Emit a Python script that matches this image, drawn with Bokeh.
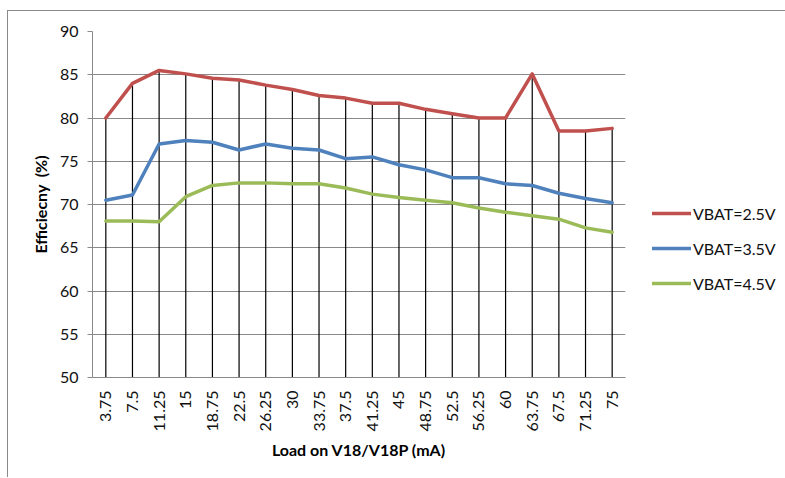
from bokeh.plotting import figure
from bokeh.models import Range1d, FactorRange, FixedTicker, Legend, LegendItem
from bokeh.embed import file_html
from bokeh.resources import INLINE
from math import pi

loads = ["3.75", "7.5", "11.25", "15", "18.75", "22.5", "26.25", "30", "33.75", "37.5",
         "41.25", "45", "48.75", "52.5", "56.25", "60", "63.75", "67.5", "71.25", "75"]
vbat_25 = [80.0, 84.0, 85.5, 85.1, 84.6, 84.4, 83.8, 83.3, 82.6, 82.3,
           81.7, 81.7, 81.0, 80.5, 80.0, 80.0, 85.1, 78.5, 78.5, 78.8]
vbat_35 = [70.5, 71.1, 77.0, 77.4, 77.2, 76.3, 77.0, 76.5, 76.3, 75.3,
           75.5, 74.6, 74.0, 73.1, 73.1, 72.4, 72.2, 71.3, 70.7, 70.2]
vbat_45 = [68.1, 68.1, 68.0, 70.9, 72.2, 72.5, 72.5, 72.4, 72.4, 71.9,
           71.2, 70.8, 70.5, 70.2, 69.6, 69.1, 68.7, 68.3, 67.3, 66.8]
y_ticks = [50, 55, 60, 65, 70, 75, 80, 85, 90]
series_names = ["VBAT=2.5V", "VBAT=3.5V", "VBAT=4.5V"]
colors = ["#C0504D", "#4F81BD", "#9BBB59"]

FONT = "Lato"

p = figure(x_range=FactorRange(*loads), y_range=Range1d(y_ticks[0], y_ticks[-1]),
           frame_width=533, frame_height=346,
           min_border_left=84, min_border_top=20, min_border_bottom=100, min_border_right=150,
           output_backend="svg", toolbar_location=None)
p.styles = {"border-left": "1px solid #8a8a8a", "border-top": "1px solid #8a8a8a",
            "margin-top": "10px", "margin-left": "7px"}
p.outline_line_color = None
p.background_fill_color = "white"
p.border_fill_color = "white"

# drop lines from the top series down to the axis
p.segment(x0=loads, y0=[y_ticks[0]] * len(loads), x1=loads, y1=vbat_25,
          line_color="black", line_width=1.2)

renderers = []
for vals, c in zip([vbat_25, vbat_35, vbat_45], colors):
    r = p.line(loads, vals, line_color=c, line_width=3.5, line_join="round", line_cap="round")
    renderers.append(r)

# axes
p.xgrid.grid_line_color = None
p.ygrid.grid_line_color = "#8a8a8a"
p.ygrid.grid_line_width = 1
p.yaxis.ticker = FixedTicker(ticks=y_ticks)

for ax in (p.xaxis[0], p.yaxis[0]):
    ax.axis_line_color = "#8a8a8a"
    ax.major_label_text_font = FONT
    ax.major_label_text_font_size = "16px"
    ax.major_label_text_color = "#111111"
    ax.axis_label_text_font = FONT
    ax.axis_label_text_font_style = "bold"
    ax.axis_label_text_font_size = "16px"
    ax.axis_label_text_color = "black"

p.yaxis.axis_label = "Efficiecny\u00a0\u00a0(%)"
p.yaxis.major_tick_line_color = "#8a8a8a"
p.yaxis.major_tick_out = 5
p.yaxis.major_tick_in = 0
p.yaxis.minor_tick_line_color = None
p.yaxis.major_label_standoff = 9
p.yaxis.axis_label_standoff = 7

p.xaxis.axis_label = "Load on V18/V18P (mA)"
p.xaxis.major_tick_line_color = None
p.xaxis.major_label_orientation = pi / 2
p.xaxis.major_label_standoff = 7
p.xaxis.axis_label_standoff = 6

legend = Legend(items=[LegendItem(label=n, renderers=[r]) for n, r in zip(series_names, renderers)],
                location=(27, 84), orientation="vertical",
                glyph_width=39, glyph_height=20, label_height=20, label_standoff=2,
                spacing=15, padding=0, margin=0, border_line_color=None,
                background_fill_alpha=0,
                label_text_font=FONT, label_text_font_size="16px", label_text_color="#111111")
p.add_layout(legend, "right")

open("out.html", "w").write(file_html(p, INLINE))
